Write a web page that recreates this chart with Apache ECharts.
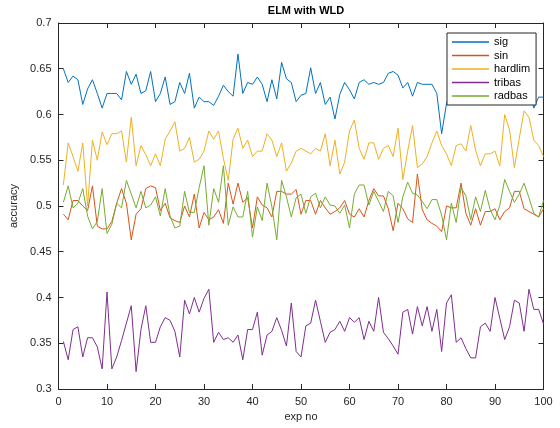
<!DOCTYPE html>
<html>
<head>
<meta charset="utf-8">
<script src="https://cdn.jsdelivr.net/npm/echarts@6/dist/echarts.min.js"></script>
<style>
  html, body { margin: 0; padding: 0; background: #fff; }
  #elmChart { width: 560px; height: 428px; }
</style>
</head>
<body>
<div id="elmChart"></div>
<script>
// 实验编号 1..100
var expNo = []
for (var i = 1; i <= 100; i++) expNo.push(i)

var xTicks = [0, 10, 20, 30, 40, 50, 60, 70, 80, 90, 100]
var yTicks = [0.3, 0.35, 0.4, 0.45, 0.5, 0.55, 0.6, 0.65, 0.7]

var sig = [
  0.650, 0.635, 0.642, 0.638, 0.611, 0.628, 0.638, 0.623, 0.607, 0.623,
  0.623, 0.623, 0.616, 0.647, 0.633, 0.644, 0.623, 0.626, 0.647, 0.614,
  0.623, 0.641, 0.611, 0.614, 0.635, 0.623, 0.645, 0.607, 0.619, 0.614,
  0.614, 0.610, 0.620, 0.632, 0.625, 0.620, 0.666, 0.623, 0.635, 0.633,
  0.641, 0.633, 0.614, 0.638, 0.617, 0.657, 0.639, 0.635, 0.614, 0.621,
  0.623, 0.651, 0.623, 0.635, 0.611, 0.619, 0.595, 0.622, 0.635, 0.627,
  0.617, 0.635, 0.638, 0.633, 0.635, 0.633, 0.635, 0.645, 0.647, 0.643,
  0.629, 0.635, 0.620, 0.635, 0.633, 0.633, 0.633, 0.623, 0.579, 0.612,
  0.628, 0.640, 0.625, 0.645, 0.632, 0.620, 0.650, 0.630, 0.640, 0.625,
  0.635, 0.628, 0.645, 0.630, 0.622, 0.638, 0.630, 0.607, 0.619, 0.619
]
var sin = [
  0.491, 0.485, 0.506, 0.506, 0.500, 0.495, 0.522, 0.478, 0.475, 0.475,
  0.483, 0.503, 0.519, 0.503, 0.463, 0.491, 0.497, 0.519, 0.522, 0.520,
  0.495, 0.503, 0.487, 0.484, 0.482, 0.500, 0.488, 0.513, 0.476, 0.493,
  0.485, 0.488, 0.496, 0.481, 0.525, 0.502, 0.525, 0.504, 0.509, 0.476,
  0.510, 0.501, 0.498, 0.488, 0.516, 0.516, 0.513, 0.513, 0.518, 0.491,
  0.506, 0.506, 0.491, 0.506, 0.498, 0.491, 0.494, 0.498, 0.506, 0.491,
  0.488, 0.497, 0.488, 0.506, 0.519, 0.511, 0.511, 0.497, 0.473, 0.503,
  0.497, 0.486, 0.482, 0.535, 0.496, 0.485, 0.481, 0.478, 0.472, 0.500,
  0.498, 0.498, 0.525, 0.492, 0.479, 0.497, 0.479, 0.494, 0.494, 0.497,
  0.485, 0.494, 0.498, 0.516, 0.516, 0.497, 0.494, 0.491, 0.488, 0.497
]
var hardlim = [
  0.523, 0.569, 0.554, 0.538, 0.569, 0.500, 0.572, 0.550, 0.581, 0.567,
  0.579, 0.579, 0.582, 0.548, 0.597, 0.544, 0.566, 0.556, 0.544, 0.557,
  0.544, 0.573, 0.582, 0.592, 0.560, 0.563, 0.575, 0.548, 0.551, 0.560,
  0.582, 0.573, 0.582, 0.552, 0.528, 0.573, 0.585, 0.563, 0.572, 0.554,
  0.560, 0.560, 0.579, 0.572, 0.554, 0.569, 0.538, 0.547, 0.560, 0.563,
  0.560, 0.557, 0.563, 0.560, 0.579, 0.544, 0.572, 0.535, 0.548, 0.582,
  0.594, 0.563, 0.551, 0.569, 0.569, 0.551, 0.563, 0.566, 0.554, 0.585,
  0.529, 0.560, 0.588, 0.542, 0.546, 0.554, 0.569, 0.582, 0.566, 0.557,
  0.544, 0.566, 0.568, 0.560, 0.588, 0.561, 0.544, 0.557, 0.557, 0.560,
  0.544, 0.600, 0.583, 0.542, 0.574, 0.604, 0.597, 0.572, 0.566, 0.554
]
var tribas = [
  0.352, 0.332, 0.365, 0.368, 0.335, 0.356, 0.356, 0.346, 0.322, 0.406,
  0.322, 0.335, 0.353, 0.372, 0.391, 0.319, 0.365, 0.391, 0.351, 0.351,
  0.368, 0.378, 0.375, 0.363, 0.335, 0.397, 0.382, 0.400, 0.384, 0.399,
  0.409, 0.351, 0.362, 0.354, 0.356, 0.351, 0.359, 0.332, 0.365, 0.365,
  0.384, 0.337, 0.359, 0.363, 0.378, 0.364, 0.347, 0.394, 0.341, 0.335,
  0.369, 0.372, 0.397, 0.374, 0.351, 0.362, 0.365, 0.374, 0.363, 0.378,
  0.373, 0.378, 0.354, 0.374, 0.363, 0.400, 0.362, 0.355, 0.347, 0.338,
  0.384, 0.387, 0.360, 0.390, 0.369, 0.390, 0.363, 0.387, 0.341, 0.394,
  0.403, 0.351, 0.356, 0.344, 0.334, 0.334, 0.368, 0.372, 0.363, 0.400,
  0.377, 0.354, 0.368, 0.397, 0.394, 0.363, 0.409, 0.387, 0.387, 0.371
]
var radbas = [
  0.504, 0.522, 0.498, 0.503, 0.519, 0.489, 0.475, 0.483, 0.519, 0.470,
  0.480, 0.503, 0.498, 0.528, 0.513, 0.498, 0.516, 0.498, 0.501, 0.510,
  0.489, 0.519, 0.489, 0.476, 0.478, 0.516, 0.493, 0.493, 0.520, 0.544,
  0.479, 0.519, 0.504, 0.544, 0.479, 0.499, 0.488, 0.488, 0.516, 0.466,
  0.499, 0.484, 0.525, 0.499, 0.463, 0.528, 0.510, 0.488, 0.509, 0.513,
  0.492, 0.510, 0.514, 0.498, 0.510, 0.501, 0.500, 0.492, 0.501, 0.476,
  0.513, 0.523, 0.523, 0.501, 0.516, 0.505, 0.494, 0.516, 0.511, 0.482,
  0.510, 0.526, 0.514, 0.512, 0.505, 0.497, 0.507, 0.507, 0.490, 0.463,
  0.503, 0.482, 0.520, 0.511, 0.485, 0.510, 0.494, 0.517, 0.496, 0.485,
  0.501, 0.529, 0.516, 0.504, 0.513, 0.525, 0.509, 0.492, 0.488, 0.506
]

var seriesNames = ['sig', 'sin', 'hardlim', 'tribas', 'radbas']
var seriesColors = ['#0072BD', '#D95319', '#EDB120', '#7E2F8E', '#77AC30']
var seriesValues = [sig, sin, hardlim, tribas, radbas]

var axisColor = '#262626'
var fontName = 'Liberation Sans'

function pairUp(values) {
  return values.map(function (v, idx) { return [expNo[idx], v] })
}

function boxAxis(position, showLabel) {
  return {
    type: 'value',
    position: position,
    axisLine: {show: true, onZero: false, lineStyle: {color: axisColor, width: 1}},
    axisTick: {show: true, inside: true, length: 5, lineStyle: {color: axisColor}},
    axisLabel: {show: showLabel, color: axisColor, fontFamily: fontName, fontSize: 11},
    splitLine: {show: false}
  }
}

var xBottom = Object.assign(boxAxis('bottom', true), {
  min: xTicks[0], max: xTicks[xTicks.length - 1], interval: 10,
  name: 'exp no', nameLocation: 'middle', nameGap: 21,
  nameTextStyle: {color: axisColor, fontFamily: fontName, fontSize: 11}
})
xBottom.axisLabel.margin = 7
var xTop = Object.assign(boxAxis('top', false), {
  min: xTicks[0], max: xTicks[xTicks.length - 1], interval: 10
})

var yLeft = Object.assign(boxAxis('left', true), {
  min: yTicks[0], max: yTicks[yTicks.length - 1], interval: 0.05,
  name: 'accuracy', nameLocation: 'middle', nameGap: 37,
  nameTextStyle: {color: axisColor, fontFamily: fontName, fontSize: 11}
})
yLeft.axisLabel.margin = 7
yLeft.axisLabel.formatter = function (v) { return String(parseFloat(v.toFixed(2))) }
var yRight = Object.assign(boxAxis('right', false), {
  min: yTicks[0], max: yTicks[yTicks.length - 1], interval: 0.05
})

let option = {
  backgroundColor: '#fff',
  animation: false,
  title: {
    text: 'ELM with WLD',
    left: 301,
    top: 0,
    textAlign: 'center',
    textStyle: {color: '#000', fontFamily: fontName, fontSize: 11, fontWeight: 'bold'}
  },
  grid: {left: 58.5, right: 16.5, top: 23, bottom: 39, containLabel: false},
  legend: {
    orient: 'vertical',
    left: 447,
    top: 33,
    data: seriesNames,
    // 只画一条线作图例
    icon: 'rect',
    itemWidth: 37,
    itemHeight: 1.3,
    itemGap: 1.5,
    padding: [3, 6, 3, 5],
    backgroundColor: '#fff',
    borderColor: axisColor,
    borderWidth: 1,
    borderRadius: 0,
    textStyle: {color: '#000', fontFamily: fontName, fontSize: 11, lineHeight: 12}
  },
  xAxis: [xBottom, xTop],
  yAxis: [yLeft, yRight],
  series: seriesNames.map(function (name, idx) {
    return {
      name: name,
      type: 'line',
      xAxisIndex: 0,
      yAxisIndex: 0,
      symbol: 'none',
      color: seriesColors[idx],
      lineStyle: {width: 1, color: seriesColors[idx]},
      data: pairUp(seriesValues[idx])
    }
  })
}

let elmChart = echarts.init(document.getElementById('elmChart'))
elmChart.setOption(option)
</script>
</body>
</html>
